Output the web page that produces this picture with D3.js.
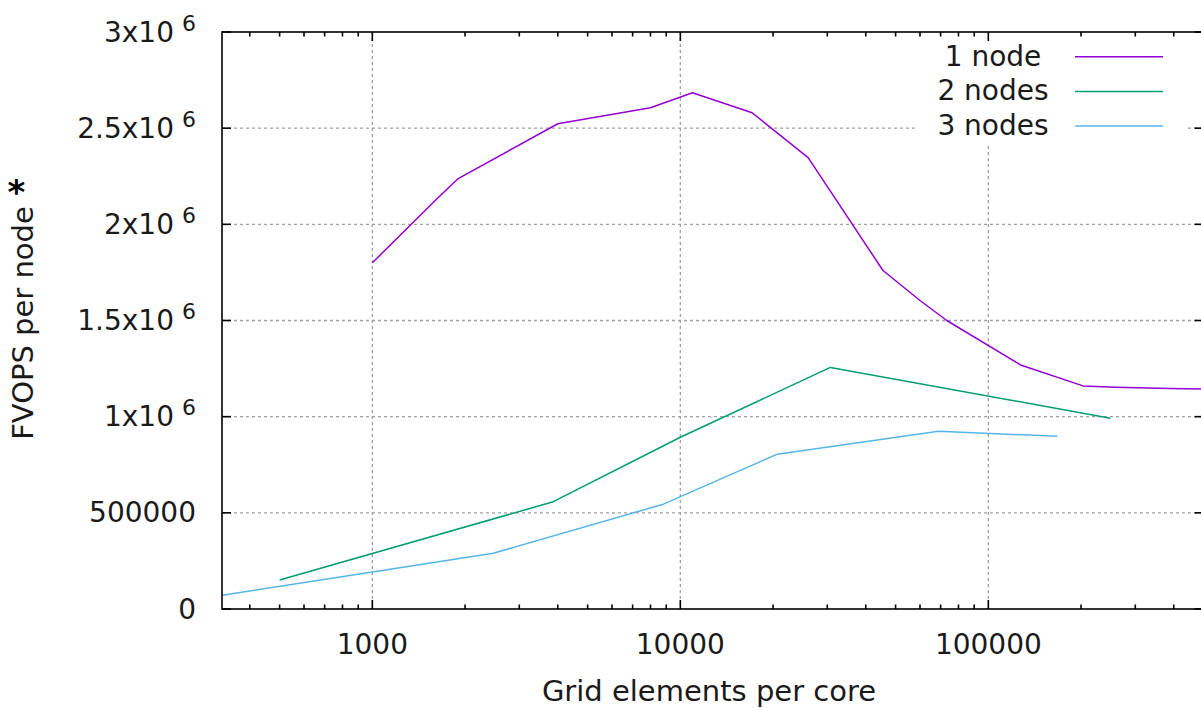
<!DOCTYPE html>
<html><head><meta charset="utf-8">
<script src="https://cdn.jsdelivr.net/npm/d3@7/dist/d3.min.js"></script>
<style>
body{margin:0;background:#fff}
svg{display:block}
text{font-family:"DejaVu Sans",sans-serif;fill:#1a1a1a}
</style>
</head><body>
<svg id="chart" width="1201" height="708"></svg>
<script>
// ---- data ----
const seriesNames = ["1 node", "2 nodes", "3 nodes"];
const seriesColors = ["#9400d3", "#009e73", "#56b4e9"];
const oneNodeX = [1000, 1600, 1900, 4000, 8000, 10950, 17100, 26000, 45500, 60000, 73300, 128000, 203000, 258000, 390000, 520000];
const oneNodeY = [1.80e6, 2.124e6, 2.238e6, 2.523e6, 2.606e6, 2.684e6, 2.58e6, 2.347e6, 1.76e6, 1.604e6, 1.50e6, 1.267e6, 1.16e6, 1.153e6, 1.147e6, 1.143e6];
const twoNodesX = [500, 3840, 10000, 30700, 249000];
const twoNodesY = [0.151e6, 0.556e6, 0.893e6, 1.256e6, 0.992e6];
const threeNodesX = [326, 1000, 2470, 8810, 20650, 68900, 167500];
const threeNodesY = [0.072e6, 0.192e6, 0.29e6, 0.545e6, 0.805e6, 0.924e6, 0.898e6];
const xTickValues = [1000, 10000, 100000];
const xTickLabels = ["1000", "10000", "100000"];
const yTickValues = [0, 500000, 1e6, 1.5e6, 2e6, 2.5e6, 3e6];
const yTickLabels = ["0", "500000", "1x10^6", "1.5x10^6", "2x10^6", "2.5x10^6", "3x10^6"];
const xTitle = "Grid elements per core";
const yTitle = "FVOPS per node";

// ---- layout ----
const L = 222, T = 32, B = 609, R = 1203.6;
const svg = d3.select("#chart");
const x = d3.scaleLog().domain([325, 500000]).range([L, R]);
const y = d3.scaleLinear().domain([0, 3e6]).range([B, T]);

const series = [
  {name: seriesNames[0], color: seriesColors[0], pts: oneNodeX.map((v, i) => [v, oneNodeY[i]])},
  {name: seriesNames[1], color: seriesColors[1], pts: twoNodesX.map((v, i) => [v, twoNodesY[i]])},
  {name: seriesNames[2], color: seriesColors[2], pts: threeNodesX.map((v, i) => [v, threeNodesY[i]])}
];

svg.append("defs").append("clipPath").attr("id", "clip")
  .append("rect").attr("x", L).attr("y", T).attr("width", R - L).attr("height", B - T);

// grid
const grid = svg.append("g").attr("stroke", "#a0a0a0").attr("stroke-width", 1.3).attr("stroke-dasharray", "3,3");
grid.selectAll("line.gx").data(xTickValues).join("line")
  .attr("x1", d => x(d)).attr("x2", d => x(d)).attr("y1", T).attr("y2", B);
grid.selectAll("line.gy").data(yTickValues.filter(v => v > 0 && v < 3e6)).join("line")
  .attr("x1", L).attr("x2", R).attr("y1", d => y(d)).attr("y2", d => y(d));

// legend background (opaque key)
svg.append("rect").attr("x", 918).attr("y", T + 1).attr("width", 269).attr("height", 110).attr("fill", "#fff");

// lines
const line = d3.line().x(d => x(d[0])).y(d => y(d[1]));
svg.append("g").attr("clip-path", "url(#clip)")
  .selectAll("path").data(series).join("path")
  .attr("d", d => line(d.pts)).attr("fill", "none")
  .attr("stroke", d => d.color).attr("stroke-width", 1.5).attr("stroke-linejoin", "round");

// border & ticks
const ax = svg.append("g").attr("stroke", "#000").attr("stroke-width", 1.6).attr("fill", "none");
ax.append("rect").attr("x", L).attr("y", T).attr("width", R - L).attr("height", B - T);
const allX = x.ticks().filter(v => v > x.domain()[0] && v < x.domain()[1]);
const isMajor = v => xTickValues.includes(v);
ax.selectAll("line.xb").data(allX).join("line")
  .attr("x1", d => x(d)).attr("x2", d => x(d))
  .attr("y1", B).attr("y2", d => B - (isMajor(d) ? 9 : 4.5));
ax.selectAll("line.xt").data(allX).join("line")
  .attr("x1", d => x(d)).attr("x2", d => x(d))
  .attr("y1", T).attr("y2", d => T + (isMajor(d) ? 9 : 4.5));
ax.selectAll("line.yl").data(yTickValues).join("line")
  .attr("x1", L).attr("x2", L + 9).attr("y1", d => y(d)).attr("y2", d => y(d));
ax.selectAll("line.yr").data(yTickValues).join("line")
  .attr("x1", R).attr("x2", R - 9).attr("y1", d => y(d)).attr("y2", d => y(d));

// x tick labels
svg.append("g").selectAll("text").data(xTickValues).join("text")
  .attr("x", d => x(d)).attr("y", 654).attr("text-anchor", "middle")
  .attr("font-size", 28).text((d, i) => xTickLabels[i]);

// y tick labels
const yl = svg.append("g").selectAll("text").data(yTickValues).join("text")
  .attr("x", 196).attr("y", d => y(d) + 9.5).attr("text-anchor", "end").attr("font-size", 28);
yl.each(function (d, i) {
  const parts = yTickLabels[i].split("^");
  const t = d3.select(this);
  t.append("tspan").text(parts[0]);
  if (parts.length > 1) {
    t.append("tspan").attr("dx", 8).attr("dy", -11).attr("font-size", 22).text(parts[1]);
  }
});

// axis titles
svg.append("text").attr("x", 709).attr("y", 701).attr("text-anchor", "middle")
  .attr("font-size", 29).text(xTitle);
svg.append("text").attr("transform", "translate(33,323) rotate(-90)").attr("text-anchor", "middle")
  .attr("font-size", 29).text(yTitle);
svg.append("text").attr("x", 16.5).attr("y", 204).attr("text-anchor", "middle")
  .attr("font-size", 34).attr("font-weight", "bold").style("fill", "#000").text("*");

// legend
const leg = svg.append("g").selectAll("g").data(series).join("g")
  .attr("transform", (d, i) => `translate(0,${56.7 + i * 34.7})`);
leg.append("text").attr("x", 993).attr("y", 9).attr("text-anchor", "middle")
  .attr("font-size", 28).text(d => d.name);
leg.append("line").attr("x1", 1075).attr("x2", 1163).attr("y1", 0).attr("y2", 0)
  .attr("stroke", d => d.color).attr("stroke-width", 1.5);
</script>
</body></html>
